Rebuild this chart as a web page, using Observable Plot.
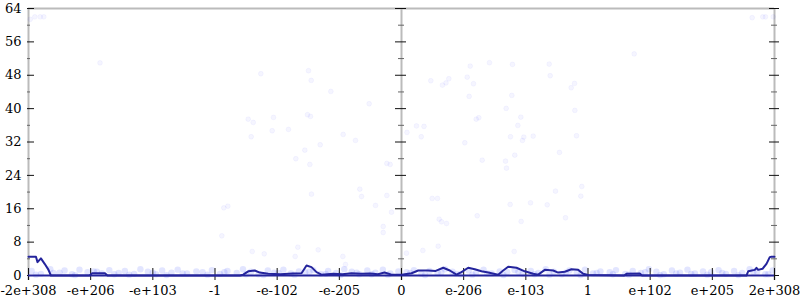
<!DOCTYPE html>
<html><head><meta charset="utf-8">
<script src="https://cdn.jsdelivr.net/npm/d3@7"></script>
<script src="https://cdn.jsdelivr.net/npm/@observablehq/plot@0.6"></script>
<style>body{margin:0;background:#fff} svg text{font-family:"DejaVu Serif",serif}</style>
</head><body><div id="chart"></div>
<script>
// x positions are in "tick slots": -6 .. 6 (ordinal float axis)
const xTickPos = [-6,-5,-4,-3,-2,-1,0,1,2,3,4,5,6];
const xTickLabels = ["-2e+308","-e+206","-e+103","-1","-e-102","-e-205","0","e-206","e-103","1","e+102","e+205","2e+308"];
const yMajor = [0,8,16,24,32,40,48,56,64];
const yMinor = [4,12,20,28,36,44,52,60];

// scattered sample errors
const ptX = [-2.263,-1.496,-1.452,-1.137,-0.520,-2.466,-2.385,-2.059,-1.512,-1.464,-2.080,-1.818,-2.418,-0.938,-0.740,-1.308,-1.555,-1.700,-1.475,-0.236,-0.182,-1.448,-0.671,-0.643,-0.236,-2.858,-2.794,-0.418,-0.161,-0.294,-0.294,-2.890,-1.668,-1.340,-2.401,-2.208,-1.710,-0.944,-0.901,
  0.494,0.579,0.606,0.643,0.724,0.590,0.343,0.080,0.471,0.659,0.716,0.761,0.241,0.362,0.088,0.318,1.105,1.415,1.785,2.376,2.392,1.057,1.158,2.783,2.730,1.089,1.774,1.684,2.788,1.202,1.243,1.919,1.871,1.753,1.967,1.946,2.118,2.815,1.018,2.541,1.298,1.673,1.822,1.689,1.218,1.748,2.075,2.344,2.477,2.900,2.884,2.638,1.925,1.813,3.743,-4.850,
  -5.972,-5.898,-5.812,-5.754,5.641,5.811,5.855,5.979];
const ptY = [48.37,49.09,46.76,44.12,41.17,37.48,36.69,37.89,38.54,38.13,34.70,35.01,33.26,33.81,32.37,31.34,30.05,27.99,26.62,26.86,26.62,19.50,20.70,18.94,19.18,16.23,16.62,16.79,15.18,11.75,10.31,9.52,6.79,6.16,5.76,5.20,4.56,4.56,2.64,
  18.47,18.47,13.50,12.88,12.47,7.03,6.00,5.35,46.69,45.64,46.16,47.17,35.85,35.73,34.29,33.26,50.19,51.01,50.60,50.67,47.89,47.55,45.97,46.04,45.01,42.93,43.17,40.05,39.57,37.48,37.82,37.96,35.97,33.26,33.17,32.37,33.41,33.50,31.82,29.50,27.65,27.41,28.85,25.73,14.32,17.03,17.43,16.95,20.22,21.34,19.02,13.84,12.95,5.76,53.12,50.96,
  61.4,62.0,62.0,62.0,61.8,62.0,62.0,62.0];

// dense low-error samples along the bottom
const bandX = [-5.95,-5.8,-5.65,-5.5,-5.42,-5.3,-5.18,-5.05,-4.95,-4.82,-4.7,-4.55,-4.45,-4.3,-4.2,-4.08,-3.95,-3.85,-3.7,-3.6,-3.45,-3.3,-3.2,-3.05,-2.92,-2.8,-2.65,-2.55,-2.42,-2.3,-2.15,-2.05,-1.9,-1.78,-1.65,-1.55,-1.42,-1.3,-1.18,-1.05,-0.92,-0.8,-0.68,-0.55,-0.42,-0.3,-0.18,-0.05,0.08,0.2,0.32,0.45,0.58,0.7,0.82,0.95,1.08,1.2,1.32,1.45,1.58,1.7,1.82,1.95,2.08,2.2,2.32,2.45,2.58,2.7,2.82,2.95,3.08,3.2,3.35,3.45,3.6,3.72,3.85,3.98,4.1,4.22,4.35,4.48,4.6,4.72,4.85,4.98,5.1,5.22,5.35,5.48,5.6,5.72,5.85,5.97,
  -5.88,-5.6,-5.25,-4.9,-4.62,-4.38,-4.0,-3.78,-3.52,-3.12,-2.85,-2.5,-2.22,-1.98,-1.72,-1.48,-1.22,-0.98,-0.72,-0.48,-0.22,0.14,0.38,0.64,0.88,1.14,1.38,1.64,1.88,2.14,2.38,2.64,2.88,3.14,3.4,3.66,3.92,4.16,4.42,4.66,4.92,5.16,5.42,5.66,5.9];
const bandY = [1.1,0.4,1.5,0.7,1.2,0.3,1.4,0.8,1.0,0.5,1.3,0.6,1.1,0.4,1.5,0.9,0.3,1.2,0.7,1.4,0.5,1.0,0.8,1.3,0.4,1.1,0.6,1.5,0.9,0.3,1.2,0.7,1.4,0.5,1.0,0.8,1.3,0.4,1.1,0.6,1.5,0.9,0.3,1.2,0.7,1.4,0.5,1.0,0.8,1.3,0.4,1.1,0.6,1.5,0.9,0.3,1.2,0.7,1.4,0.5,1.0,0.8,1.3,0.4,1.1,0.6,1.5,0.9,0.3,1.2,0.7,1.4,0.5,1.0,0.8,1.3,0.4,1.1,0.6,1.5,0.9,0.3,1.2,0.7,1.4,0.5,1.0,0.8,1.3,0.4,1.1,0.6,1.5,0.9,0.3,1.2,
  0.2,0.6,0.1,0.9,0.3,0.2,0.7,0.1,0.5,0.2,0.8,0.3,0.1,0.6,0.2,0.9,0.4,0.1,0.7,0.3,0.2,0.6,0.1,0.8,0.4,0.2,0.5,0.1,0.9,0.3,0.2,0.7,0.1,0.6,0.3,0.2,0.8,0.1,0.5,0.4,0.2,0.6,0.1,0.9,0.3];

// averaged error line
const lineX = [-6,-5.88,-5.855,-5.80,-5.74,-5.68,-5.64,-5.02,-4.975,-4.77,-4.73,-2.6,-2.546,-2.466,-2.36,-2.28,-2.144,-1.95,-1.75,-1.608,-1.528,-1.448,-1.367,-1.287,-1.1,-0.95,-0.804,-0.65,-0.5,-0.38,-0.273,-0.161,0,0.161,0.269,0.429,0.55,0.671,0.777,0.885,0.965,1.073,1.179,1.287,1.395,1.555,1.636,1.716,1.85,1.983,2.118,2.199,2.305,2.44,2.52,2.627,2.734,2.842,2.923,3.003,3.58,3.619,3.833,3.87,5.549,5.577,5.683,5.71,5.737,5.807,5.871,5.924,5.951,6];
const lineY = [4.5,4.5,3.2,4.1,2.8,1.4,0,0,0.55,0.55,0,0,0.2,1.0,1.2,0.7,0.4,0.3,0.5,0.55,2.4,2.0,0.8,0.2,0.4,0.3,0.55,0.4,0.5,0.3,0.7,0.2,0.2,0.55,1.2,1.2,1.1,1.85,1.2,0.2,0.8,1.85,1.5,1.0,0.7,0.2,1.2,2.1,1.85,1.0,0.4,0.2,1.35,1.2,0.7,0.9,1.5,1.35,0.4,0.1,0,0.4,0.5,0,0,1.0,1.35,1.85,1.35,1.6,2.8,4.4,4.5,4.5];

const points = ptX.map((x,i)=>({x, y: ptY[i]}));
const band = bandX.map((x,i)=>({x, y: bandY[i]}));
const line = lineX.map((x,i)=>({x, y: lineY[i]}));

const axisGray = "#bbbbbb";
const navy = "#24249c";
const font = "DejaVu Serif";

const chart = Plot.plot({
  width: 800, height: 300,
  marginLeft: 28, marginRight: 26, marginTop: 8, marginBottom: 25,
  style: "font-family: 'DejaVu Serif', serif; font-size: 13px; background: #fff; color: #000;",
  x: {domain: [-6, 6], label: null},
  y: {domain: [0, 64], label: null},
  marks: [
    Plot.ruleX(xTickPos.filter(d => d === -6 || d === 0 || d === 6), {x: d => d, stroke: axisGray, strokeWidth: 2, insetBottom: -5}),
    Plot.ruleY([64], {stroke: axisGray, strokeWidth: 2}),
    Plot.dot(band, {x: "x", y: "y", r: 3.2, fill: "#3344ff", fillOpacity: 0.14, stroke: "none"}),
    Plot.dot(points, {x: "x", y: "y", r: 2.4, fill: "#0000ff", fillOpacity: 0.04, stroke: "#3333ff", strokeOpacity: 0.06, strokeWidth: 0.8}),
    // y ticks on left axis (inside), middle and right axes (both sides)
    Plot.tickY(yMajor, {y: d => d, stroke: "#111", strokeWidth: 1, insetLeft: -1, insetRight: 740}),
    Plot.tickY(yMinor, {y: d => d, stroke: "#666", strokeWidth: 1, insetLeft: -1, insetRight: 744}),
    Plot.tickY(yMajor, {y: d => d, stroke: "#111", strokeWidth: 1, insetLeft: 367, insetRight: 368}),
    Plot.tickY(yMinor, {y: d => d, stroke: "#666", strokeWidth: 1, insetLeft: 370, insetRight: 370}),
    Plot.tickY(yMajor, {y: d => d, stroke: "#111", strokeWidth: 1, insetLeft: 741, insetRight: -5}),
    Plot.tickY(yMinor, {y: d => d, stroke: "#666", strokeWidth: 1, insetLeft: 743, insetRight: -3}),
    Plot.tickX(xTickPos, {x: d => d, stroke: "#111", strokeWidth: 1, insetTop: 260, insetBottom: -5}),
    Plot.ruleY([0], {stroke: navy, strokeWidth: 2}),
    Plot.line(line, {x: "x", y: "y", stroke: navy, strokeWidth: 2, curve: "linear"}),
    Plot.axisY(yMajor, {anchor: "left", label: null, tickSize: 0, tickPadding: 7, fontFamily: font, fontSize: 13, tickFormat: d => String(d)}),
    Plot.axisX(xTickPos, {anchor: "bottom", label: null, tickSize: 0, tickPadding: 10, fontFamily: font, fontSize: 13, tickFormat: d => xTickLabels[xTickPos.indexOf(d)]})
  ]
});
document.getElementById("chart").appendChild(chart);
</script>
</body></html>
